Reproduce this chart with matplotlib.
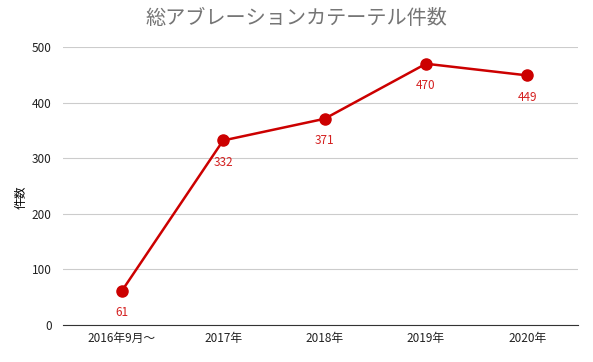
import matplotlib.pyplot as plt

plt.rcParams['font.family'] = ['Noto Sans CJK JP', 'DejaVu Sans']

categories = ['2016年9月～', '2017年', '2018年', '2019年', '2020年']
counts = [61, 332, 371, 470, 449]

red = '#cc0000'

fig = plt.figure(figsize=(5.93, 3.62), dpi=100)
ax = fig.add_axes([0.106, 0.102, 0.869, 0.768])

x = list(range(len(categories)))
ax.plot(x, counts, color=red, lw=1.8, marker='o', ms=8, zorder=3)
for xi, v in zip(x, counts):
    ax.annotate(str(v), (xi, v), xytext=(0, -11), textcoords='offset points',
                ha='center', va='top', fontsize=8.5, color='#d42020')

ax.set_xlim(-0.58, 4.5)
ax.set_ylim(0, 500)
ax.set_yticks(range(0, 501, 100))
ax.set_xticks(x)
ax.set_xticklabels(categories)
ax.grid(axis='y', color='#cccccc', lw=0.8)
ax.set_axisbelow(True)
for s in ['top', 'right', 'left']:
    ax.spines[s].set_visible(False)
ax.spines['bottom'].set_color('#333333')
ax.tick_params(length=0, labelsize=8.5, colors='#222222')
ax.tick_params(axis='x', pad=5)
ax.tick_params(axis='y', pad=8)

fig.text(0.035, 0.455, '件数', rotation=90, ha='center', va='center', fontsize=8.5)
fig.text(0.5, 0.95, '総アブレーションカテーテル件数', ha='center', va='center',
         fontsize=14.5, color='#757575')

fig.savefig('out.png', dpi=100)
